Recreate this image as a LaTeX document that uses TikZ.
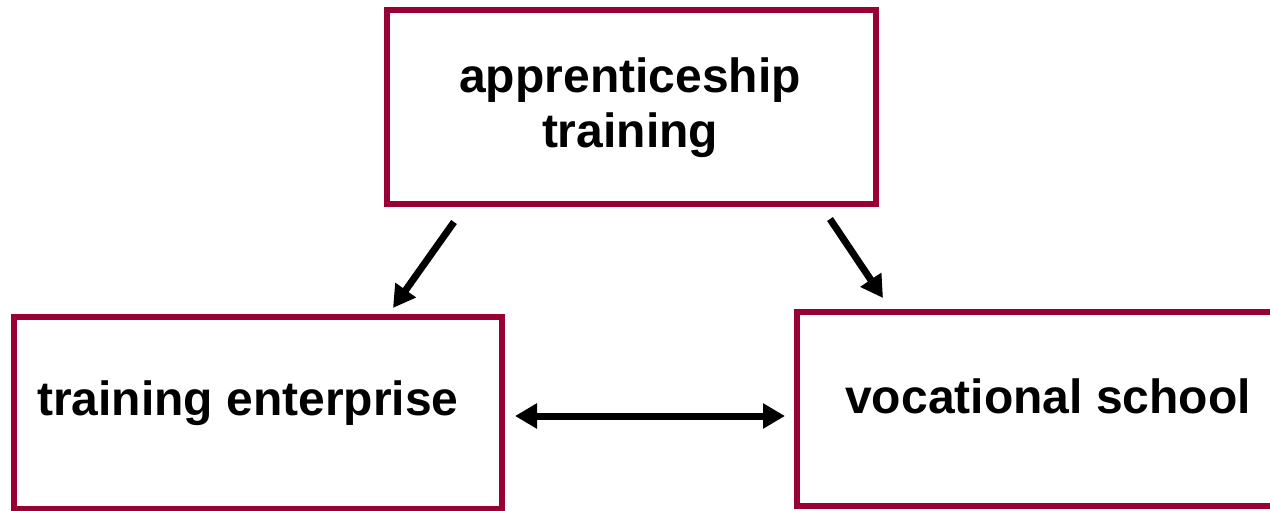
\documentclass[tikz,border=0pt]{standalone}
\usepackage{fontspec}
\setmainfont{Liberation Sans}
\usetikzlibrary{arrows.meta}
\definecolor{boxred}{RGB}{153,0,51}
\begin{document}
\begin{tikzpicture}[x=1pt,y=-1pt,
  framebox/.style={draw=boxred,line width=6pt,rectangle,inner sep=0pt},
  label/.style={font=\fontsize{48}{55}\selectfont\bfseries,align=center,inner sep=0pt},
  link/.style={line width=7pt,-{Triangle[length=22pt,width=24pt]}},
  biglink/.style={line width=7pt,{Triangle[length=22pt,width=24pt]}-{Triangle[length=22pt,width=24pt]}}]
  \useasboundingbox (0,0) rectangle (1270,511);
  % frames
  \node[framebox,minimum width=489pt,minimum height=194pt] (top) at (631.5,107) {};
  \node[framebox,minimum width=488pt,minimum height=192pt] (left) at (258,413) {};
  \node[framebox,minimum width=490pt,minimum height=194pt] (right) at (1042,409) {};
  % labels
  \node[label] (toptext) at (630,108) {apprenticeship\\training};
  \node[label] (lefttext) at (248,403) {training enterprise};
  \node[label] (righttext) at (1048,396) {vocational school};
  % arrow end points
  \coordinate (a1s) at (454,222);
  \coordinate (a1e) at (393,308);
  \coordinate (a2s) at (830,219);
  \coordinate (a2e) at (883,298);
  \coordinate (a3s) at (515,416);
  \coordinate (a3e) at (785,416);
  \draw[link] (a1s) -- (a1e);
  \draw[link] (a2s) -- (a2e);
  \draw[biglink] (a3s) -- (a3e);
\end{tikzpicture}
\end{document}
